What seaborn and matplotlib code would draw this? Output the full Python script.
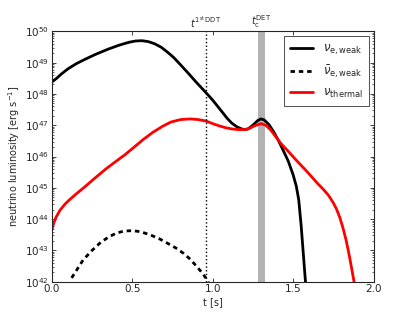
import numpy as np
import pandas as pd
import seaborn as sns
import matplotlib
matplotlib.use('Agg')
import matplotlib.pyplot as plt

# time [s] and log10 luminosity [erg/s]
t_weak = [0.0, 0.03, 0.06, 0.10, 0.15, 0.20, 0.27, 0.35, 0.42, 0.48, 0.52, 0.56,
          0.60, 0.64, 0.68, 0.72, 0.76, 0.80, 0.85, 0.90, 0.96, 1.00, 1.05, 1.09,
          1.12, 1.15, 1.18, 1.20, 1.22, 1.25, 1.28, 1.30, 1.32, 1.35, 1.38, 1.41,
          1.44, 1.47, 1.50, 1.52, 1.535, 1.55, 1.565, 1.576, 1.585]
logL_weak = [48.38, 48.50, 48.64, 48.80, 48.96, 49.09, 49.26, 49.43, 49.56, 49.65, 49.69, 49.70,
             49.67, 49.60, 49.49, 49.33, 49.15, 48.93, 48.65, 48.36, 48.03, 47.80, 47.48, 47.22,
             47.06, 46.95, 46.88, 46.86, 46.88, 47.00, 47.15, 47.20, 47.17, 47.02, 46.78, 46.50,
             46.18, 45.85, 45.42, 45.05, 44.62, 43.80, 42.80, 42.06, 41.60]

t_anti = [0.123, 0.16, 0.195, 0.25, 0.30, 0.35, 0.40, 0.45, 0.50, 0.55, 0.61, 0.665,
          0.715, 0.77, 0.82, 0.86, 0.90, 0.935, 0.965, 0.98]
logL_anti = [42.12, 42.42, 42.70, 43.00, 43.24, 43.42, 43.55, 43.62, 43.63, 43.60, 43.50, 43.38,
             43.24, 43.08, 42.90, 42.72, 42.49, 42.28, 42.06, 41.90]

t_therm = [0.0, 0.01, 0.025, 0.05, 0.08, 0.11, 0.15, 0.20, 0.27, 0.34, 0.40, 0.45,
           0.50, 0.57, 0.63, 0.69, 0.74, 0.80, 0.86, 0.91, 0.96, 1.00, 1.04, 1.08,
           1.12, 1.16, 1.20, 1.23, 1.26, 1.30, 1.33, 1.36, 1.39, 1.42, 1.46, 1.52,
           1.59, 1.65, 1.69, 1.72, 1.75, 1.77, 1.79, 1.81, 1.83, 1.85, 1.877, 1.89]
logL_therm = [43.66, 43.85, 44.05, 44.28, 44.47, 44.62, 44.80, 45.01, 45.32, 45.62, 45.85, 46.04,
              46.25, 46.55, 46.78, 46.97, 47.10, 47.18, 47.20, 47.18, 47.13, 47.05, 46.98, 46.92,
              46.88, 46.86, 46.86, 46.90, 46.98, 47.05, 47.00, 46.85, 46.65, 46.44, 46.22, 45.88,
              45.50, 45.15, 44.94, 44.76, 44.52, 44.32, 44.06, 43.72, 43.32, 42.82, 42.06, 41.60]

t_ddt = 0.957
det_band = [1.28, 1.323]

series = [
    (t_weak, logL_weak, r'$\nu_{\rm e,weak}$', 'black', '-'),
    (t_anti, logL_anti, r'$\bar{\nu}_{\rm e,weak}$', 'black', (0, (1.6, 1.4))),
    (t_therm, logL_therm, r'$\nu_{\rm thermal}$', 'red', '-'),
]

sns.set_style('ticks')
plt.rcParams['font.family'] = ['DejaVu Sans']
plt.rcParams['mathtext.fontset'] = 'dejavusans'
plt.rcParams['font.size'] = 7

fig = plt.figure(figsize=(4.15, 3.13), dpi=100)
ax = fig.add_axes([0.125, 0.1, 0.775, 0.8])

for t, lg, lab, col, ls in series:
    df = pd.DataFrame({'t': t, 'L': 10.0 ** np.array(lg)})
    sns.lineplot(data=df, x='t', y='L', color=col, lw=2, linestyle=ls,
                 label=lab, ax=ax, sort=False)

ax.axvline(t_ddt, color='black', ls=':', lw=1)
ax.axvspan(det_band[0], det_band[1], color='#b3b3b3', lw=0)

ax.set_yscale('log')
ax.set_xlim(0, 2)
ax.set_ylim(1e42, 1e50)
ax.set_xticks([0.0, 0.5, 1.0, 1.5, 2.0])
ax.set_xticklabels(['0.0', '0.5', '1.0', '1.5', '2.0'])
ax.set_xlabel('t [s]', fontsize=7, labelpad=2)
ax.set_ylabel(r'neutrino luminosity [erg s$^{-1}$]', fontsize=7, labelpad=2)

ax.tick_params(which='both', direction='in', top=True, right=True, labelsize=7.5, pad=2)
ax.tick_params(which='major', length=3, width=0.6)
ax.tick_params(which='minor', length=1.5, width=0.5)
for s in ax.spines.values():
    s.set_linewidth(0.8)

ax.text(t_ddt, 1.12e50, r'$t^{\rm 1^{st}\,DDT}$', ha='center', va='bottom', fontsize=7)
ax.text(sum(det_band) / 2, 1.12e50, r'$t_{\rm c}^{\rm DET}$', ha='center', va='bottom', fontsize=7)

leg = ax.legend(loc='upper right', fontsize=8.5, frameon=True, fancybox=False,
                handlelength=2, borderpad=0.5, labelspacing=0.5, borderaxespad=0.4)
leg.get_frame().set_edgecolor('black')
leg.get_frame().set_linewidth(0.6)

fig.savefig('out.png', dpi=100)
